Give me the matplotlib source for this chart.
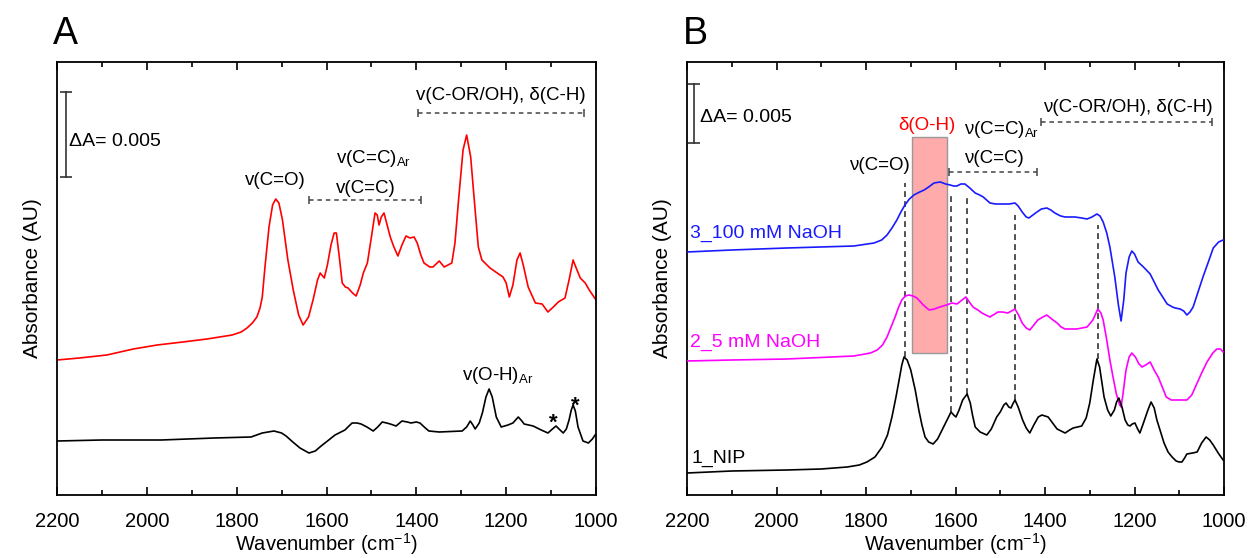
import matplotlib
matplotlib.use('Agg')
import matplotlib.pyplot as plt
from matplotlib.patches import Rectangle

plt.rcParams['font.family'] = ['Liberation Sans', 'DejaVu Sans']
plt.rcParams['mathtext.default'] = 'regular'

# ---- panel A: red spectrum (upper) ----
wn_A_red = [2200, 2150, 2089, 2030, 1977, 1920, 1866, 1810, 1790, 1777, 1765, 1755, 1748,
            1743, 1737, 1728, 1720, 1713, 1706, 1698, 1686, 1674, 1662, 1652, 1640, 1630,
            1620, 1614, 1605, 1598, 1590, 1583, 1578, 1572, 1565, 1558, 1552, 1542, 1534,
            1525, 1518, 1509, 1500, 1492, 1487, 1483, 1478, 1472, 1465, 1458, 1450, 1441,
            1432, 1423, 1414, 1405, 1398, 1390, 1383, 1370, 1363, 1349, 1338, 1321, 1314,
            1306, 1296, 1288, 1279, 1271, 1262, 1254, 1236, 1220, 1207, 1200, 1193, 1185,
            1176, 1169, 1162, 1151, 1135, 1120, 1107, 1095, 1084, 1069, 1060, 1051, 1045,
            1035, 1024, 1015, 1006, 1000]
abs_A_red = [135, 137, 140, 146, 150, 153, 156, 160, 163, 167, 172, 178, 187,
             198, 228, 268, 290, 296, 292, 275, 235, 205, 180, 170, 178, 195,
             215, 222, 217, 230, 250, 262, 262, 240, 212, 208, 207, 202, 199,
             210, 222, 232, 258, 282, 280, 270, 278, 282, 270, 258, 248, 239,
             250, 259, 257, 258, 252, 240, 232, 228, 228, 234, 228, 232, 252,
             295, 345, 360, 338, 295, 248, 235, 227, 222, 218, 212, 198, 210,
             235, 242, 230, 208, 192, 191, 183, 188, 193, 197, 215, 235, 228,
             217, 212, 205, 199, 195]

# ---- panel A: black spectrum (lower) ----
wn_A_blk = [2200, 2100, 1968, 1850, 1768, 1743, 1717, 1700, 1690, 1675, 1659, 1639, 1625,
            1612, 1595, 1581, 1559, 1550, 1543, 1532, 1523, 1510, 1496, 1486, 1476, 1466,
            1458, 1445, 1432, 1420, 1412, 1400, 1392, 1380, 1372, 1349, 1298, 1288, 1280,
            1274, 1269, 1260, 1253, 1245, 1238, 1231, 1222, 1211, 1196, 1185, 1173, 1165,
            1160, 1140, 1122, 1107, 1097, 1089, 1080, 1073, 1066, 1060, 1055, 1051, 1046,
            1040, 1029, 1017, 1008, 1002]
abs_A_blk = [54, 55, 55, 57, 58, 62, 64, 62, 59, 53, 47, 42, 44,
             49, 55, 60, 65, 69, 72, 72, 71, 68, 64, 68, 73, 72,
             71, 69, 74, 73, 72, 73, 72, 67, 64, 63, 64, 68, 74,
             70, 66, 72, 82, 98, 106, 98, 78, 68, 70, 72, 78, 74,
             71, 69, 65, 62, 66, 69, 65, 62, 66, 75, 85, 90, 84,
             68, 54, 52, 56, 60]

# ---- panel B: 3_100 mM NaOH (blue) ----
wn_B_blue = [2200, 2100, 1977, 1827, 1782, 1765, 1753, 1742, 1731, 1722, 1713, 1703, 1693,
             1680, 1670, 1660, 1648, 1634, 1622, 1612, 1604, 1597, 1588, 1579, 1568, 1556,
             1546, 1538, 1523, 1510, 1494, 1480, 1467, 1460, 1451, 1442, 1436, 1427, 1418,
             1408, 1396, 1387, 1378, 1365, 1355, 1333, 1318, 1306, 1295, 1284, 1277, 1270,
             1262, 1255, 1244, 1236, 1230, 1224, 1219, 1212, 1206, 1200, 1192, 1180, 1165,
             1147, 1127, 1115, 1109, 1098, 1090, 1083, 1076, 1069, 1058, 1047, 1035, 1024,
             1012, 1002]
abs_B_blue = [243, 245, 247, 249, 252, 255, 260, 267, 275, 283, 290, 296, 300,
              303, 305, 308, 312, 313, 311, 310, 309, 309, 311, 311, 307, 302,
              300, 298, 292, 291, 291, 291, 292, 289, 283, 278, 277, 280, 283,
              286, 287, 285, 282, 279, 278, 278, 277, 276, 278, 281, 279, 273,
              262, 248, 218, 190, 174, 195, 222, 238, 244, 241, 233, 228, 221,
              205, 191, 188, 187, 186, 184, 180, 183, 188, 203, 218, 233, 247,
              253, 255]

# ---- panel B: 2_5 mM NaOH (magenta) ----
wn_B_mag = [2200, 2100, 1977, 1827, 1790, 1775, 1763, 1753, 1744, 1735, 1727, 1720, 1712,
            1704, 1695, 1686, 1672, 1659, 1647, 1635, 1620, 1608, 1597, 1588, 1577, 1569,
            1561, 1550, 1541, 1523, 1505, 1495, 1483, 1467, 1459, 1451, 1442, 1434, 1425,
            1416, 1405, 1396, 1385, 1373, 1364, 1355, 1329, 1306, 1293, 1282, 1275, 1270,
            1262, 1255, 1248, 1240, 1233, 1230, 1226, 1219, 1212, 1206, 1198, 1190, 1183,
            1175, 1165, 1155, 1147, 1138, 1129, 1118, 1105, 1083, 1072, 1060, 1050, 1038,
            1025, 1016, 1008, 1002]
abs_B_mag = [134, 135, 136, 139, 142, 145, 150, 158, 168, 178, 188, 195, 199,
             200, 199, 197, 190, 185, 186, 188, 190, 192, 191, 194, 198, 193,
             188, 185, 182, 178, 183, 183, 182, 186, 180, 172, 167, 165, 170,
             175, 178, 180, 176, 172, 168, 166, 166, 168, 175, 186, 182, 175,
             155, 135, 118, 100, 90, 88, 100, 125, 138, 142, 138, 131, 128,
             130, 133, 124, 118, 108, 98, 95, 95, 95, 100, 112, 122, 133,
             142, 146, 146, 143]

# ---- panel B: 1_NIP (black) ----
wn_B_blk = [2200, 2100, 1977, 1900, 1842, 1815, 1798, 1780, 1764, 1752, 1742, 1733, 1726,
            1720, 1715, 1708, 1700, 1690, 1682, 1675, 1668, 1660, 1650, 1640, 1630, 1620,
            1610, 1604, 1599, 1592, 1584, 1574, 1567, 1562, 1556, 1545, 1530, 1520, 1508,
            1500, 1492, 1487, 1481, 1476, 1472, 1467, 1460, 1450, 1442, 1434, 1425, 1415,
            1407, 1393, 1383, 1373, 1355, 1345, 1337, 1318, 1308, 1300, 1292, 1284, 1278,
            1272, 1268, 1260, 1253, 1245, 1240, 1235, 1228, 1221, 1215, 1210, 1205, 1199,
            1193, 1188, 1180, 1170, 1163, 1156, 1150, 1143, 1134, 1125, 1116, 1107, 1100,
            1094, 1088, 1083, 1070, 1060, 1050, 1040, 1032, 1024, 1013, 1002]
abs_B_blk = [22, 24, 25, 26, 28, 30, 33, 38, 48, 60, 78, 98, 115,
             130, 138, 135, 125, 105, 85, 70, 58, 53, 51, 56, 65, 74,
             83, 80, 78, 85, 95, 101, 92, 80, 68, 63, 60, 66, 78,
             83, 90, 92, 88, 87, 91, 95, 88, 75, 67, 62, 70, 78,
             80, 78, 72, 66, 62, 65, 67, 69, 77, 92, 115, 136, 128,
             110, 98, 85, 79, 85, 93, 97, 88, 75, 70, 69, 71, 72,
             66, 62, 72, 85, 93, 87, 75, 65, 52, 43, 38, 34, 33,
             33, 37, 41, 42, 43, 52, 58, 55, 50, 42, 35]

# band positions marked by dashed lines in panel B (wavenumber, top, bottom)
vline_wn = [1713, 1610, 1574, 1467, 1282]
vline_top = [312, 301, 297, 280, 270]
vline_bot = [138, 83, 101, 95, 136]

xticks = [2200, 2000, 1800, 1600, 1400, 1200, 1000]
DASH = (0, (3, 2.5))


def bracket(ax, x1, x2, y):
    ax.plot([x1, x2], [y, y], color='#444444', lw=1.1, ls=DASH,
            marker='|', ms=6, mew=1.1)


def scalebar(ax, x, y1, y2):
    ax.plot([x, x], [y1, y2], color='#333333', lw=1.2,
            marker='_', ms=8, mew=1.2)


def style(ax):
    ax.set_xlim(2200, 1000)
    ax.set_ylim(0, 433)
    ax.set_xticks(xticks)
    ax.set_xticks(range(2100, 1000, -200), minor=True)
    ax.set_yticks([])
    ax.tick_params(axis='x', which='both', direction='in', top=True, width=1.2,
                   labelsize=14.5, pad=12)
    ax.tick_params(axis='x', which='major', length=6)
    ax.tick_params(axis='x', which='minor', length=3.5)
    for s in ax.spines.values():
        s.set_linewidth(1.3)
    ax.set_xlabel('Wavenumber (cm$^{-1}$)', fontsize=14.5, labelpad=0)
    ax.set_ylabel('Absorbance (AU)', fontsize=15, labelpad=11)


fig = plt.figure(figsize=(12.5, 5.58), dpi=100)
axA = fig.add_axes([0.0456, 0.1129, 0.4312, 0.776])
axB = fig.add_axes([0.5496, 0.1129, 0.4296, 0.776])

# ---------- panel A ----------
axA.plot(wn_A_red, abs_A_red, color='red', lw=1.2)
axA.plot(wn_A_blk, abs_A_blk, color='black', lw=1.2)
style(axA)

scalebar(axA, 2180, 318, 403)
axA.text(2173, 349, 'ΔA= 0.005', fontsize=14, va='baseline')
axA.text(1713, 310, 'v(C=O)', fontsize=13.5, ha='center', va='baseline')
axA.text(1579, 332, 'v(C=C)$_{Ar}$', fontsize=13.5, va='baseline')
axA.text(1579, 302, 'v(C=C)', fontsize=13.5, va='baseline')
bracket(axA, 1639, 1389, 295)
axA.text(1211, 395, 'v(C-OR/OH), δ(C-H)', fontsize=13.5, ha='center', va='baseline')
bracket(axA, 1396, 1026, 382)
axA.text(1298, 115, 'v(O-H)$_{Ar}$', fontsize=13.5, va='baseline')
axA.text(1095, 66, '*', fontsize=16, fontweight='bold', ha='center', va='baseline')
axA.text(1046, 83, '*', fontsize=16, fontweight='bold', ha='center', va='baseline')

# ---------- panel B ----------
axB.add_patch(Rectangle((1697, 142), 1619 - 1697, 358 - 142, facecolor='red',
                        alpha=0.33, edgecolor='none', zorder=1))
axB.add_patch(Rectangle((1697, 142), 1619 - 1697, 358 - 142, facecolor='none',
                        edgecolor='#999999', lw=1, zorder=1))
for w, t, b in zip(vline_wn, vline_top, vline_bot):
    axB.plot([w, w], [b, t], color='#333333', lw=1.2, ls=(0, (3.5, 2.5)), zorder=2)

axB.plot(wn_B_blue, abs_B_blue, color='#1a1aff', lw=1.2, zorder=3)
axB.plot(wn_B_mag, abs_B_mag, color='#ff00ff', lw=1.2, zorder=3)
axB.plot(wn_B_blk, abs_B_blk, color='black', lw=1.2, zorder=3)
style(axB)

scalebar(axB, 2184, 352, 411)
axB.text(2171, 373, 'ΔA= 0.005', fontsize=14, va='baseline')
axB.text(1664, 365, 'δ(O-H)', fontsize=13.5, color='red', ha='center', va='baseline')
axB.text(1771, 325, 'ν(C=O)', fontsize=13.5, ha='center', va='baseline')
axB.text(1581, 361, 'ν(C=C)$_{Ar}$', fontsize=13.5, va='baseline')
axB.text(1581, 332, 'ν(C=C)', fontsize=13.5, va='baseline')
bracket(axB, 1614, 1418, 323)
axB.text(1215, 383, 'ν(C-OR/OH), δ(C-H)', fontsize=13.5, ha='center', va='baseline')
bracket(axB, 1409, 1027, 373)
axB.text(2193, 257, '3_100 mM NaOH', fontsize=14, color='#1a1aff', va='baseline')
axB.text(2193, 148, '2_5 mM NaOH', fontsize=14, color='#ff00ff', va='baseline')
axB.text(2191, 32, '1_NIP', fontsize=14, color='black', va='baseline')

fig.text(0.042, 0.921, 'A', fontsize=27, va='baseline')
fig.text(0.546, 0.921, 'B', fontsize=27, va='baseline')

fig.savefig('out.png', dpi=100)
